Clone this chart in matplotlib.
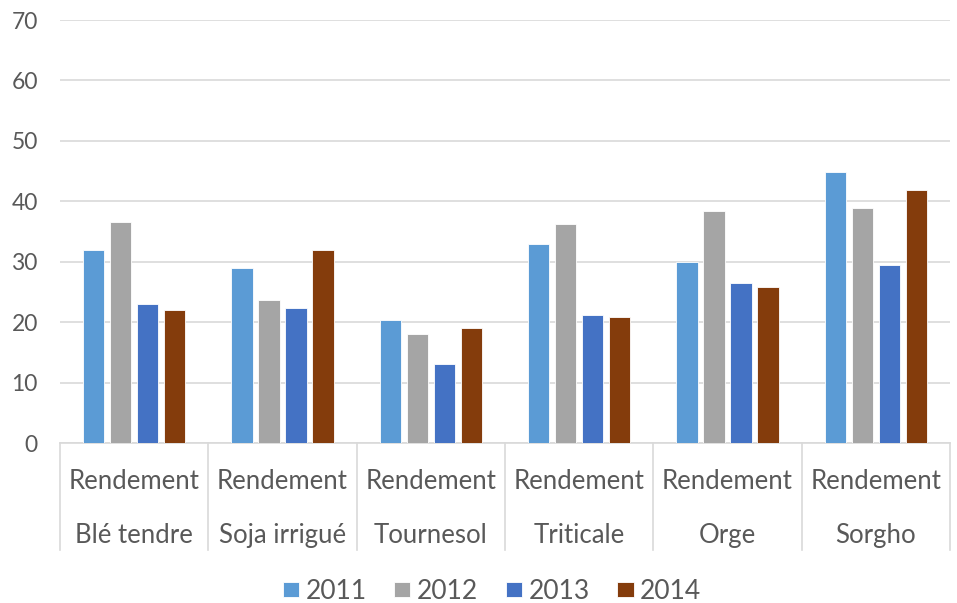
import matplotlib.pyplot as plt
import numpy as np

plt.rcParams['font.family'] = ['Lato', 'DejaVu Sans']

crops = ['Blé tendre', 'Soja irrigué', 'Tournesol', 'Triticale', 'Orge', 'Sorgho']
measure = 'Rendement'
years = ['2011', '2012', '2013', '2014']
v2011 = [32, 29, 20.3, 33, 30, 44.8]
v2012 = [36.5, 23.6, 18.1, 36.3, 38.4, 38.9]
v2013 = [23, 22.4, 13, 21.2, 26.5, 29.4]
v2014 = [22, 32, 19, 20.9, 25.9, 41.9]
colors = ['#5B9BD5', '#A5A5A5', '#4472C4', '#843C0C']

series = [v2011, v2012, v2013, v2014]
txt = '#595959'
grid = '#D9D9D9'

fig = plt.figure(figsize=(9.57, 6.03), dpi=100)
ax = fig.add_axes([0.0627, 0.2653, 0.93, 0.7015])

x = np.arange(len(crops)) + 0.5
width = 0.142
step = 0.182
for i, (vals, c) in enumerate(zip(series, colors)):
    ax.bar(x + (i - 1.5) * step, vals, width, color=c, edgecolor='white',
           linewidth=0.6, label=years[i], zorder=3)

ax.set_xlim(0, len(crops))
ax.set_ylim(0, 70)
ax.set_yticks(range(0, 71, 10))
ax.yaxis.grid(True, color=grid, linewidth=1.2, zorder=0)
ax.tick_params(axis='y', length=0, labelsize=16.5, colors=txt, pad=16)
ax.set_xticks([])
for s in ['top', 'right', 'left']:
    ax.spines[s].set_visible(False)
ax.spines['bottom'].set_color(grid)
ax.spines['bottom'].set_linewidth(1.2)

# two-level category axis
for b in range(len(crops) + 1):
    ax.plot([b, b], [0, -0.253], transform=ax.get_xaxis_transform(),
            color=grid, linewidth=1.2, clip_on=False)
for xi, name in zip(x, crops):
    ax.annotate(measure, (xi, 0), xycoords=('data', 'axes fraction'),
                xytext=(0, -28), textcoords='offset points', ha='center',
                va='center', fontsize=18.5, color=txt)
    ax.annotate(name, (xi, 0), xycoords=('data', 'axes fraction'),
                xytext=(0, -66.5), textcoords='offset points', ha='center',
                va='center', fontsize=18.5, color=txt)

leg = fig.legend(loc='center', bbox_to_anchor=(492 / 957, 1 - 591.5 / 603), ncol=4,
                 frameon=False, fontsize=19, handlelength=0.61,
                 handleheight=0.5, handletextpad=0.25, columnspacing=1.05)
for t in leg.get_texts():
    t.set_color(txt)

fig.savefig('out.png', dpi=100)
